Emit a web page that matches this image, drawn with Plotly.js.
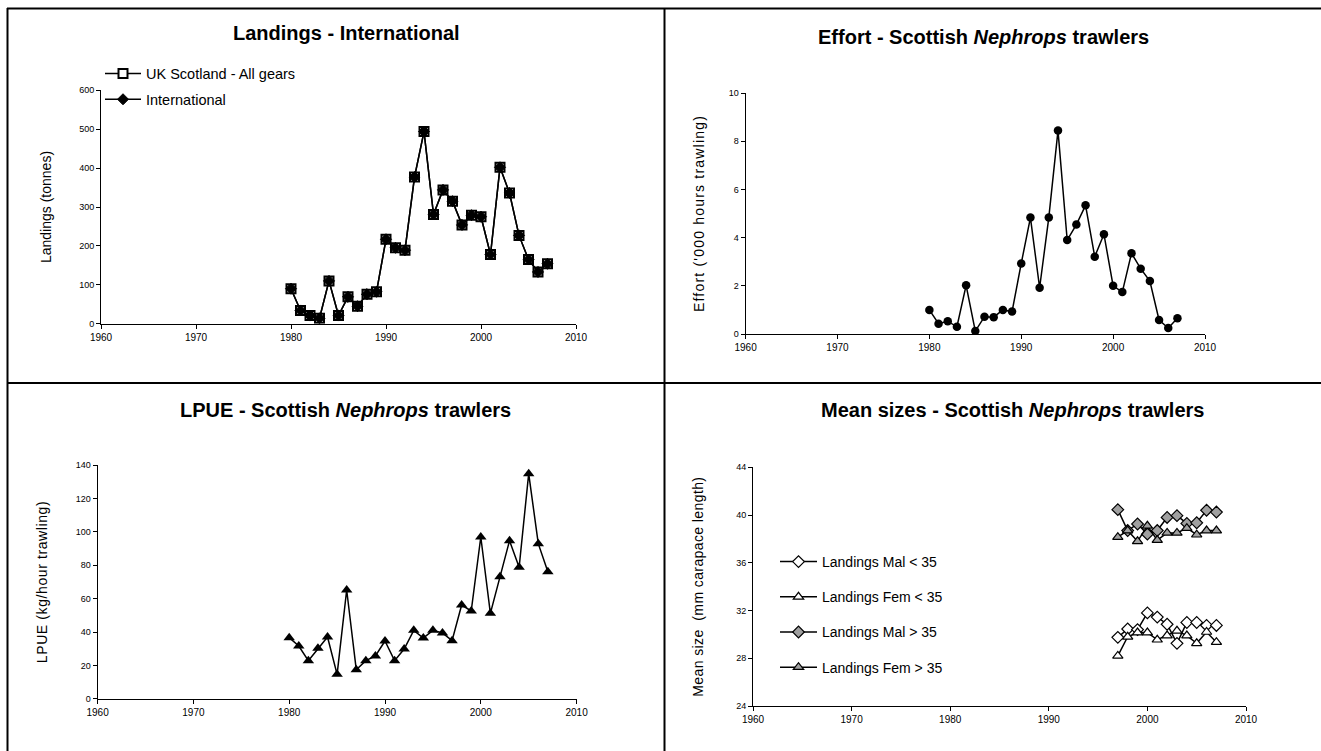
<!DOCTYPE html>
<html>
<head>
<meta charset="utf-8">
<script src="https://cdn.plot.ly/plotly-3.0.1.min.js"></script>
<style>
  html, body { margin: 0; padding: 0; background: #ffffff; }
  #chart { width: 1321px; height: 751px; }
  .y2title { letter-spacing: 1.2px; }
  .y3title { letter-spacing: 0.6px; }
  .y4title { letter-spacing: 0.4px; }
</style>
</head>
<body>
<div id="chart"></div>
<script>
// ---------------- DATA ----------------
const landingYears = [1980,1981,1982,1983,1984,1985,1986,1987,1988,1989,1990,1991,1992,1993,1994,1995,1996,1997,1998,1999,2000,2001,2002,2003,2004,2005,2006,2007];
const landingsUKScotland = [90,34,21,14,110,21,69,45,76,82,217,195,189,377,494,281,344,315,254,279,275,178,402,336,227,165,133,154];
const landingsInternational = [90,34,21,14,110,21,69,45,76,82,217,195,189,377,494,281,344,315,254,279,275,178,402,336,227,165,133,154];

const effortYears = [1980,1981,1982,1983,1984,1985,1986,1987,1988,1989,1990,1991,1992,1993,1994,1995,1996,1997,1998,1999,2000,2001,2002,2003,2004,2005,2006,2007];
const effortValues = [1.0,0.43,0.53,0.3,2.02,0.12,0.72,0.7,1.0,0.93,2.93,4.83,1.92,4.83,8.44,3.9,4.54,5.34,3.21,4.14,2.0,1.74,3.35,2.71,2.2,0.58,0.25,0.65];

const lpueYears = [1980,1981,1982,1983,1984,1985,1986,1987,1988,1989,1990,1991,1992,1993,1994,1995,1996,1997,1998,1999,2000,2001,2002,2003,2004,2005,2006,2007];
const lpueValues = [36.6,31.6,22.8,30.2,37,14.6,65.2,17.4,22.8,25.6,34.6,22.8,29.8,41,36.4,41,39.4,34.8,56.2,52.6,97,51.2,73.2,94.8,78.8,135,93,76.2];

const sizeYears = [1997,1998,1999,2000,2001,2002,2003,2004,2005,2006,2007];
const malUnder35 = [29.75,30.45,30.4,31.8,31.45,30.85,29.25,31.0,31.0,30.75,30.75];
const femUnder35 = [28.2,29.8,30.15,30.15,29.55,29.9,30.3,29.9,29.25,30.2,29.35];
const malOver35 = [40.45,38.7,39.25,38.4,38.7,39.8,39.95,39.3,39.35,40.4,40.25];
const femOver35 = [38.15,38.7,37.8,39.1,37.9,38.5,38.5,38.9,38.35,38.7,38.7];

const panelTitles = [
  "<b>Landings - International</b>",
  "<b>Effort - Scottish <i>Nephrops</i> trawlers</b>",
  "<b>LPUE - Scottish <i>Nephrops</i> trawlers</b>",
  "<b>Mean sizes - Scottish <i>Nephrops</i> trawlers</b>"
];
const yTitles = [
  "Landings (tonnes)",
  "Effort ('000 hours trawling)",
  "LPUE (kg/hour trawling)",
  "Mean size  (mm carapace length)"
];
const legendNames1 = ["UK Scotland - All gears", "International"];
const legendNames4 = ["Landings Mal < 35", "Landings Fem < 35", "Landings Mal > 35", "Landings Fem > 35"];

// ---------------- LAYOUT HELPERS ----------------
const W = 1321, H = 751;
const FONT = "Liberation Sans, Arial, sans-serif";
const px = v => v / W;
const py = v => 1 - v / H;

const lineStyle = {color: "#000000", width: 1.5};
const grey = "#a0a0a0";

const traces = [
  {x: landingYears, y: landingsUKScotland, name: legendNames1[0], xaxis: "x", yaxis: "y",
   mode: "lines+markers", line: lineStyle, legend: "legend", legendgroup: "a1",
   marker: {symbol: "square", size: 9, color: "#ffffff", line: {color: "#000000", width: 2}}},
  {x: landingYears, y: landingsInternational, name: legendNames1[1], xaxis: "x", yaxis: "y",
   mode: "lines+markers", line: lineStyle, legend: "legend", legendgroup: "a2",
   marker: {symbol: "diamond", size: 8.5, color: "#000000", line: {color: "#000000", width: 1}}},

  {x: effortYears, y: effortValues, name: "Effort", xaxis: "x2", yaxis: "y2", showlegend: false,
   mode: "lines+markers", line: lineStyle,
   marker: {symbol: "circle", size: 8.5, color: "#000000"}},

  {x: lpueYears, y: lpueValues, name: "LPUE", xaxis: "x3", yaxis: "y3", showlegend: false,
   mode: "lines+markers", line: lineStyle,
   marker: {symbol: "triangle-up", size: 10, color: "#000000"}},

  {x: sizeYears, y: malUnder35, name: legendNames4[0], xaxis: "x4", yaxis: "y4",
   mode: "lines+markers", line: lineStyle, legend: "legend2", legendgroup: "b1",
   marker: {symbol: "diamond", size: 9, color: "#ffffff", line: {color: "#000000", width: 1.2}}},
  {x: sizeYears, y: femUnder35, name: legendNames4[1], xaxis: "x4", yaxis: "y4",
   mode: "lines+markers", line: lineStyle, legend: "legend2", legendgroup: "b2",
   marker: {symbol: "triangle-up", size: 9, color: "#ffffff", line: {color: "#000000", width: 1.2}}},
  {x: sizeYears, y: malOver35, name: legendNames4[2], xaxis: "x4", yaxis: "y4",
   mode: "lines+markers", line: lineStyle, legend: "legend2", legendgroup: "b3",
   marker: {symbol: "diamond", size: 9, color: grey, line: {color: "#000000", width: 1.2}}},
  {x: sizeYears, y: femOver35, name: legendNames4[3], xaxis: "x4", yaxis: "y4",
   mode: "lines+markers", line: lineStyle, legend: "legend2", legendgroup: "b4",
   marker: {symbol: "triangle-up", size: 9, color: grey, line: {color: "#000000", width: 1.2}}}
];

function xAxis(left, right, anchor) {
  return {
    domain: [px(left), px(right)], anchor: anchor,
    range: [1960, 2010], dtick: 10, tick0: 1960,
    showline: true, linecolor: "#000000", linewidth: 1,
    ticks: "outside", ticklen: 4, tickcolor: "#000000", tickwidth: 1,
    showgrid: false, zeroline: false, fixedrange: true,
    tickfont: {family: FONT, size: 10, color: "#000000"}
  };
}
function yAxis(bottom, top, anchor, range, dtick, title, standoff) {
  return {
    domain: [py(bottom), py(top)], anchor: anchor,
    range: range, dtick: dtick, tick0: range[0],
    showline: true, linecolor: "#000000", linewidth: 1,
    ticks: "outside", ticklen: 4, tickcolor: "#000000", tickwidth: 1,
    showgrid: false, zeroline: false, fixedrange: true, automargin: false,
    tickfont: {family: FONT, size: 9, color: "#000000"},
    title: {text: title, standoff: standoff, font: {family: FONT, size: 14, color: "#000000"}}
  };
}

const titlePos = [[346, 33], [983, 37], [345, 410], [1012, 410]];
const annotations = panelTitles.map((t, i) => ({
  text: t, xref: "paper", yref: "paper",
  x: px(titlePos[i][0]), y: py(titlePos[i][1]),
  xanchor: "center", yanchor: "middle", showarrow: false,
  font: {family: FONT, size: 20, color: "#000000"}
}));

const frameLine = {color: "#000000", width: 2};
const shapes = [
  {type: "line", xref: "paper", yref: "paper", x0: px(7), x1: 1, y0: py(8.5), y1: py(8.5), line: frameLine},
  {type: "line", xref: "paper", yref: "paper", x0: px(7.5), x1: px(7.5), y0: py(8), y1: 0, line: frameLine},
  {type: "line", xref: "paper", yref: "paper", x0: px(664.5), x1: px(664.5), y0: py(8), y1: 0, line: frameLine},
  {type: "line", xref: "paper", yref: "paper", x0: px(7), x1: 1, y0: py(383), y1: py(383), line: frameLine}
];

const layout = {
  width: W, height: H,
  margin: {l: 0, r: 0, t: 0, b: 0, pad: 0},
  paper_bgcolor: "#ffffff", plot_bgcolor: "rgba(0,0,0,0)",
  font: {family: FONT, color: "#000000"},
  xaxis: xAxis(101, 576, "y"),
  yaxis: yAxis(323.7, 90.3, "x", [0, 600], 100, yTitles[0], 24),
  xaxis2: xAxis(745.6, 1205, "y2"),
  yaxis2: yAxis(334, 93, "x2", [0, 10], 2, yTitles[1], 20),
  xaxis3: xAxis(97.6, 576.6, "y3"),
  yaxis3: yAxis(698.7, 465.3, "x3", [0, 140], 20, yTitles[2], 24),
  xaxis4: xAxis(753, 1246, "y4"),
  yaxis4: yAxis(706, 467.3, "x4", [24, 44], 4, yTitles[3], 29),
  legend: {
    x: px(100), y: py(57.5), xanchor: "left", yanchor: "top",
    bgcolor: "rgba(0,0,0,0)", borderwidth: 0,
    font: {family: FONT, size: 14.5, color: "#000000"},
    itemwidth: 36, traceorder: "grouped", tracegroupgap: 4
  },
  legend2: {
    x: px(775), y: py(546), xanchor: "left", yanchor: "top",
    bgcolor: "rgba(0,0,0,0)", borderwidth: 0,
    font: {family: FONT, size: 14, color: "#000000"},
    itemwidth: 37, traceorder: "grouped", tracegroupgap: 14
  },
  annotations: annotations,
  shapes: shapes,
  showlegend: true,
  hovermode: false
};

Plotly.newPlot("chart", traces, layout, {staticPlot: true, displayModeBar: false});
</script>
</body>
</html>
